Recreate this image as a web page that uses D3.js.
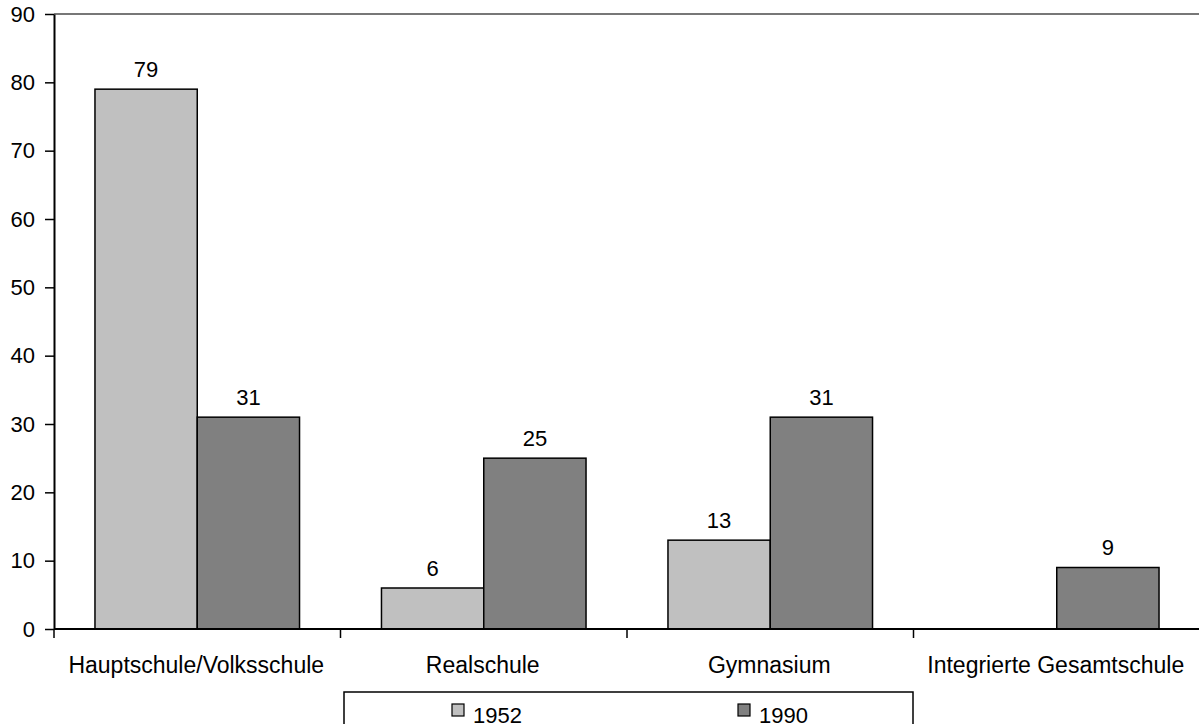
<!DOCTYPE html>
<html>
<head>
<meta charset="utf-8">
<script src="https://cdn.jsdelivr.net/npm/d3@7/dist/d3.min.js"></script>
<style>
  html, body { margin: 0; padding: 0; background: #fff; }
  svg { display: block; font-family: "Liberation Sans", Arial, sans-serif; }
</style>
</head>
<body>
<svg id="chart" width="1199" height="724"></svg>
<script>
const categories = ["Hauptschule/Volksschule", "Realschule", "Gymnasium", "Integrierte Gesamtschule"];
const seriesNames = ["1952", "1990"];
const values1952 = [79, 6, 13, null];
const values1990 = [31, 25, 31, 9];
const yTicks = [0, 10, 20, 30, 40, 50, 60, 70, 80, 90];
const colors = ["#c0c0c0", "#808080"];

(function () {
const svg = d3.select("#chart");
const pLeft = 54, pRight = 1200, pTop = 14, pBottom = 629;
const fs = 22;

const x0 = d3.scaleBand().domain(categories).range([pLeft, pRight]).paddingInner(0).paddingOuter(0);
const bw = x0.bandwidth();
const x1 = d3.scaleBand().domain(seriesNames).range([bw * 0.143, bw * 0.857]).padding(0);
const y = d3.scaleLinear().domain([0, 90]).range([pBottom, pTop]);

const seriesData = [values1952, values1990];

// top border (gray)
svg.append("line")
  .attr("x1", pLeft).attr("x2", pRight)
  .attr("y1", y(90)).attr("y2", y(90))
  .attr("stroke", "#777").attr("stroke-width", 2);

// bars
const data = [];
categories.forEach((c, i) => {
  seriesNames.forEach((s, j) => {
    const v = seriesData[j][i];
    if (v !== null && v !== undefined) data.push({ c, s, v, j });
  });
});

svg.append("g").selectAll("rect").data(data).join("rect")
  .attr("x", d => x0(d.c) + x1(d.s))
  .attr("y", d => y(d.v))
  .attr("width", x1.bandwidth())
  .attr("height", d => y(0) - y(d.v))
  .attr("fill", d => colors[d.j])
  .attr("stroke", "#000")
  .attr("stroke-width", 1.5);

svg.append("g").selectAll("text").data(data).join("text")
  .attr("x", d => x0(d.c) + x1(d.s) + x1.bandwidth() / 2)
  .attr("y", d => y(d.v) - 12.5)
  .attr("text-anchor", "middle")
  .attr("font-size", fs)
  .attr("fill", "#000")
  .text(d => d.v);

// y axis
const yAxis = d3.axisLeft(y).tickValues(yTicks).tickSize(9).tickPadding(10).tickSizeOuter(0);
const gy = svg.append("g").attr("transform", `translate(${pLeft},0)`).call(yAxis);
gy.select(".domain").attr("stroke", "#000").attr("stroke-width", 2);
gy.selectAll(".tick line").attr("stroke", "#000").attr("stroke-width", 1.5);
gy.selectAll(".tick text").attr("font-size", fs).attr("fill", "#000")
  .attr("font-family", "Liberation Sans, Arial, sans-serif");

// x axis
svg.append("line")
  .attr("x1", pLeft).attr("x2", pRight)
  .attr("y1", y(0)).attr("y2", y(0))
  .attr("stroke", "#000").attr("stroke-width", 2);
svg.append("g").selectAll("line").data(categories).join("line")
  .attr("x1", d => x0(d)).attr("x2", d => x0(d))
  .attr("y1", y(0)).attr("y2", y(0) + 9)
  .attr("stroke", "#000").attr("stroke-width", 1.5);
svg.append("g").selectAll("text").data(categories).join("text")
  .attr("x", d => x0(d) + bw / 2 - 1)
  .attr("y", 673)
  .attr("text-anchor", "middle")
  .attr("font-size", 23)
  .attr("fill", "#000")
  .text(d => d);

// legend
svg.append("rect")
  .attr("x", 344).attr("y", 692)
  .attr("width", 569).attr("height", 60)
  .attr("fill", "#fff").attr("stroke", "#000").attr("stroke-width", 1.5);
const legendX = [452, 738];
const lg = svg.append("g").selectAll("g").data(seriesNames).join("g")
  .attr("transform", (d, i) => `translate(${legendX[i]},704)`);
lg.append("rect")
  .attr("width", 12).attr("height", 12)
  .attr("fill", (d, i) => colors[i])
  .attr("stroke", "#000").attr("stroke-width", 1.2);
lg.append("text")
  .attr("x", 21).attr("y", 18.5)
  .attr("font-size", fs)
  .attr("fill", "#000")
  .text(d => d);
})();
</script>
</body>
</html>
